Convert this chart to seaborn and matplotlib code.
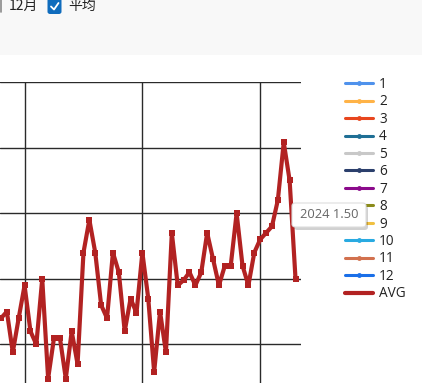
import numpy as np
import pandas as pd
import seaborn as sns
import matplotlib
matplotlib.use("Agg")
import matplotlib.pyplot as plt
from matplotlib.lines import Line2D
from matplotlib.patches import Rectangle, FancyBboxPatch

# ---------------- data ----------------
years = list(range(1974, 2025))
avg_values = [1.20, 1.25, 0.94, 1.20, 1.45, 1.10, 1.00, 1.50, 0.74, 1.05,
              1.05, 0.74, 1.10, 0.85, 1.70, 1.95, 1.70, 1.30, 1.20, 1.70,
              1.55, 1.10, 1.35, 1.24, 1.70, 1.35, 0.79, 1.25, 0.94, 1.85,
              1.45, 1.49, 1.55, 1.45, 1.55, 1.85, 1.65, 1.45, 1.60, 1.60,
              2.00, 1.60, 1.45, 1.70, 1.80, 1.85, 1.90, 2.10, 2.54, 2.25, 1.50]
series_labels = ["1", "2", "3", "4", "5", "6", "7", "8", "9", "10", "11", "12", "AVG"]
series_colors = ["#4f92ec", "#ffb347", "#e8461e", "#1f6f95", "#c8c8c8", "#2b3f6c",
                 "#8b0a8b", "#8b8b1a", "#f0c040", "#29aae1", "#d2714e", "#1a6fe8",
                 "#b22222"]
x_grid_years = [1978, 1998, 2018]
y_grid_values = [1.0, 1.5, 2.0, 2.5, 3.0]
tooltip_text = "2024 1.50"
checkbox_labels = ["12月", "平均"]

W, H = 422, 383
sns.set_theme(style="white")
plt.rcParams["font.family"] = ["Noto Sans CJK SC", "DejaVu Sans"]

fig = plt.figure(figsize=(W / 100, H / 100), dpi=100)
fig.patch.set_facecolor("white")


def fx(x):
    return x / W


def fy(y):
    return 1 - y / H


# ---------------- axes ----------------
ax_left, ax_right, ax_top, ax_bottom = 0, 301, 81.5, 383
ax = fig.add_axes([fx(ax_left), fy(ax_bottom), fx(ax_right - ax_left), (ax_bottom - ax_top) / H])
ax.set_facecolor("white")

df = pd.DataFrame({"year": years, "value": avg_values, "series": "AVG"})
sns.lineplot(data=df, x="year", y="value", hue="series",
             palette={"AVG": series_colors[-1]}, marker="s", markersize=5,
             markeredgewidth=0, linewidth=3, legend=False, ax=ax)

ax.set_xlim(1973.83, 2024.93)
ax.set_ylim(0.706, 3.004)
ax.set_xticks(x_grid_years)
ax.set_yticks(y_grid_values)
ax.grid(True, color="#2a2a2a", linewidth=1.0)
ax.set_axisbelow(True)
ax.tick_params(length=0, labelbottom=False, labelleft=False)
ax.set_xlabel("")
ax.set_ylabel("")
for s in ax.spines.values():
    s.set_visible(False)

# ---------------- legend ----------------
handles = []
for lab, col in zip(series_labels, series_colors):
    if lab == "AVG":
        handles.append(Line2D([], [], color=col, lw=3, marker="s", markersize=3.5, markeredgewidth=0))
    else:
        handles.append(Line2D([], [], color=col, lw=2.2, marker="o", markersize=3.5, markeredgewidth=0))
leg = fig.legend(handles, series_labels, loc="upper left",
                 bbox_to_anchor=(fx(345), fy(77)), frameon=False,
                 borderpad=0, borderaxespad=0, handlelength=2.05,
                 handletextpad=0.45, labelspacing=0.18,
                 prop={"family": ["Open Sans", "DejaVu Sans"], "size": 9.8})
for t in leg.get_texts():
    t.set_color("#222222")

# ---------------- top control bar ----------------
fig.add_artist(Rectangle((0, fy(55)), 1, 55 / H, transform=fig.transFigure,
                         facecolor="#f8f8f8", edgecolor="none", zorder=0))
fig.add_artist(Line2D([fx(1), fx(1)], [fy(0), fy(12)], transform=fig.transFigure,
                      color="#8a8a8a", lw=1.2))
fig.text(fx(9), fy(6), checkbox_labels[0], fontsize=10, color="#222222",
         va="center", ha="left")
fig.add_artist(FancyBboxPatch((fx(47.5), fy(14)), fx(14), 16 / H,
                              boxstyle="round,pad=0,rounding_size=0.006",
                              transform=fig.transFigure, facecolor="#0f6cbd",
                              edgecolor="none", zorder=3))
fig.add_artist(Line2D([fx(51), fx(54), fx(58.5)], [fy(6.5), fy(9.5), fy(3)],
                      transform=fig.transFigure, color="white", lw=1.3, zorder=4))
fig.text(fx(68), fy(6), checkbox_labels[1], fontsize=10, color="#222222",
         va="center", ha="left")

# ---------------- tooltip ----------------
bx0, by0, bx1, by1 = 292, 203, 366, 227
fig.add_artist(FancyBboxPatch((fx(bx0 + 2), fy(by1 + 3)), fx(bx1 - bx0), (by1 - by0) / H,
                              boxstyle="round,pad=0,rounding_size=0.008",
                              transform=fig.transFigure, facecolor="#000000",
                              alpha=0.18, edgecolor="none", zorder=9))
fig.add_artist(FancyBboxPatch((fx(bx0), fy(by1)), fx(bx1 - bx0), (by1 - by0) / H,
                              boxstyle="round,pad=0,rounding_size=0.008",
                              transform=fig.transFigure, facecolor="white",
                              edgecolor="#dddddd", lw=0.8, zorder=10))
fig.text(fx((bx0 + bx1) / 2), fy((by0 + by1) / 2), tooltip_text, fontsize=9.3,
         color="#666666", ha="center", va="center", zorder=11,
         family=["Open Sans", "DejaVu Sans"])

fig.savefig("out.png", dpi=100)
